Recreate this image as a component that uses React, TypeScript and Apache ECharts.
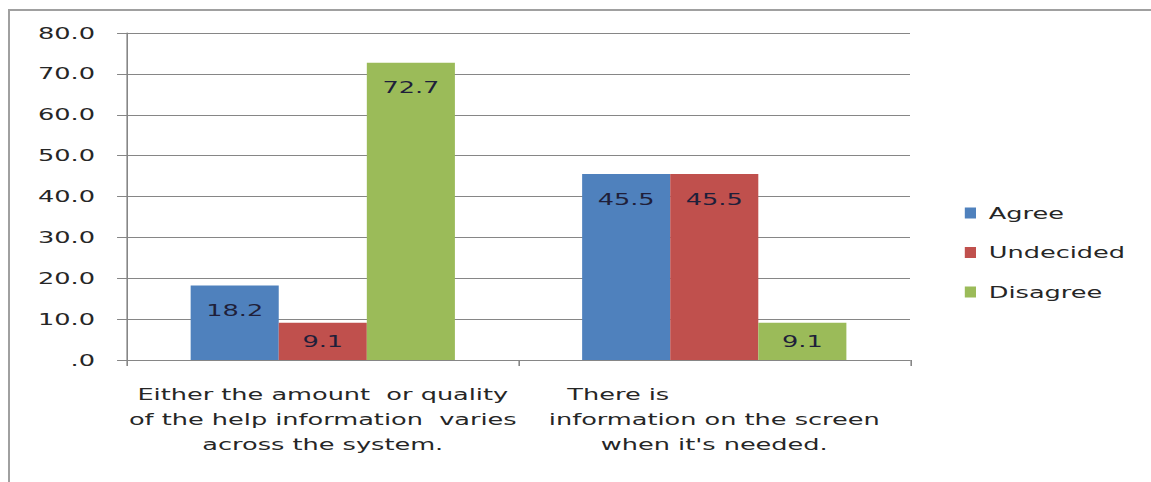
import React, { useEffect, useRef } from "react";
import * as echarts from "echarts";

const categories = [
  "Either the amount  or quality\nof the help information  varies\nacross the system.",
  "There is\ninformation on the screen\nwhen it's needed.",
];
const seriesNames = ["Agree", "Undecided", "Disagree"];
const agree = [18.2, 45.5];
const undecided = [9.1, 45.5];
const disagree = [72.7, 9.1];
const yTicks = { min: 0, max: 80, interval: 10 };

const colors = ["#4F81BD", "#C0504D", "#9BBB59"];
const SX = 1.6;
const FONT = "'DejaVu Sans', Verdana, sans-serif";

export default function App() {
  const ref = useRef<HTMLDivElement>(null);
  useEffect(() => {
    if (!ref.current) return;
    const chart = echarts.init(ref.current, null, { renderer: "svg" });
    const values = [agree, undecided, disagree];
    const series = seriesNames.map((name, i) => ({
      name,
      type: "bar",
      barGap: "0%",
      barCategoryGap: "32.5%",
      itemStyle: { color: colors[i] },
      label: {
        show: true,
        position: "insideTop",
        distance: 17,
        color: "#1f1f3a",
        fontSize: 16,
        fontFamily: FONT,
        formatter: (p: any) => Number(p.value).toFixed(1),
      },
      data: values[i].map((v) =>
        v < 15 ? { value: v, label: { position: "inside" } } : v
      ),
    }));
    chart.setOption({
      animation: false,
      backgroundColor: "transparent",
      textStyle: { fontFamily: FONT },
      grid: { left: 79.4, right: 151.25, top: 33, bottom: 122, containLabel: false },
      legend: {
        orient: "vertical",
        left: 598,
        top: 198,
        itemWidth: 7,
        itemHeight: 11,
        itemGap: 19.5,
        icon: "rect",
        data: seriesNames,
        textStyle: {
          fontSize: 16,
          lineHeight: 20,
          color: "#262626",
          fontFamily: FONT,
          padding: [0, 0, 0, 3],
        },
      },
      xAxis: {
        type: "category",
        data: categories,
        axisLine: { lineStyle: { color: "#868686", width: 1 } },
        axisTick: { show: true, length: 6, lineStyle: { color: "#868686" } },
        axisLabel: {
          interval: 0,
          hideOverlap: false,
          margin: 22,
          fontSize: 16,
          lineHeight: 25,
          color: "#262626",
          fontFamily: FONT,
          formatter: (v: string) => v.replace("There is\n", "There is{pad| }\n"),
          rich: {
            pad: { width: 120, lineHeight: 25, fontSize: 16 },
          },
        },
      },
      yAxis: {
        type: "value",
        min: yTicks.min,
        max: yTicks.max,
        interval: yTicks.interval,
        axisLine: { show: true, lineStyle: { color: "#868686", width: 1 } },
        axisTick: { show: true, length: 6.25, lineStyle: { color: "#868686" } },
        splitLine: { show: true, lineStyle: { color: "#868686", width: 1 } },
        axisLabel: {
          margin: 20,
          fontSize: 16,
          color: "#262626",
          fontFamily: FONT,
          formatter: (v: number) => (v === 0 ? ".0" : v.toFixed(1)),
        },
      },
      series,
    });
    return () => chart.dispose();
  }, []);

  return (
    <div
      style={{
        position: "fixed",
        left: 0,
        top: 0,
        width: 1151,
        height: 482,
        overflow: "hidden",
        background: "#ffffff",
      }}
    >
      <div
        style={{
          position: "absolute",
          left: 8,
          top: 9,
          width: 1400,
          height: 800,
          borderLeft: "2px solid #a0a0a0",
          borderTop: "2px solid #a0a0a0",
        }}
      />
      <div
        ref={ref}
        style={{
          position: "absolute",
          left: 0,
          top: 0,
          width: 720,
          height: 482,
          transform: `scaleX(${SX})`,
          transformOrigin: "0 0",
        }}
      />
    </div>
  );
}
